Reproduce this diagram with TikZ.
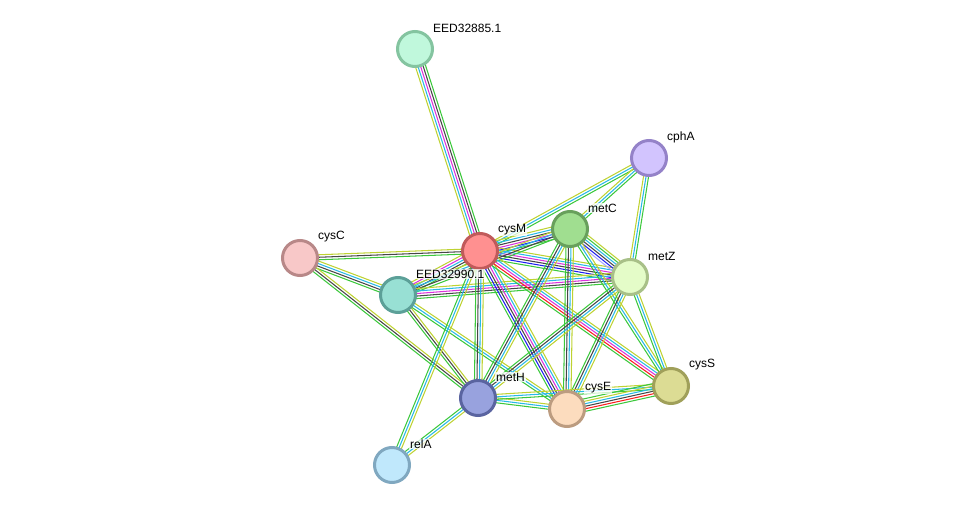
\documentclass[tikz,border=0pt]{standalone}
\usepackage{fontspec}
\setmainfont{Liberation Sans}
\usetikzlibrary{calc,backgrounds}

\definecolor{tg}{RGB}{60,200,60}
\definecolor{tc}{RGB}{40,185,230}
\definecolor{ty}{RGB}{190,210,50}
\definecolor{tk}{RGB}{70,70,70}
\definecolor{tm}{RGB}{220,50,220}
\definecolor{tb}{RGB}{30,30,240}
\definecolor{tr}{RGB}{250,30,30}
\definecolor{tl}{RGB}{165,165,255}

% one bundle of parallel lines per link, one line per evidence colour
\newcommand{\link}[3]{%
  \foreach \c [count=\n] in {#3} {\xdef\nlines{\n}}
  \foreach \c [count=\i] in {#3} {
    \pgfmathsetmacro{\off}{(\i-1-(\nlines-1)/2)*2.5}
    \draw[line width=1.05pt, color=\c]
      ($(#1)!\off pt!90:(#2)$) -- ($(#2)!\off pt!-90:(#1)$);
  }
}

\begin{document}
\begin{tikzpicture}[x=1pt, y=-1pt,
  every node/.style={font=\fontsize{12}{14}\selectfont},
  prot/.style={circle, line width=3pt, minimum size=35pt, inner sep=0pt},
  lbl/.style ={anchor=west, inner sep=1pt, fill=white, fill opacity=0.75, text opacity=1}]

\useasboundingbox (0,0) rectangle (975,511);

% proteins
\node[prot, fill={rgb,255:red,192;green,248;blue,220}, draw={rgb,255:red,132;green,196;blue,160}] (e85)  at (415,49)  {};
\node[prot, fill={rgb,255:red,210;green,196;blue,254}, draw={rgb,255:red,148;green,130;blue,200}] (cphA) at (649,158) {};
\node[prot, fill={rgb,255:red,160;green,222;blue,144}, draw={rgb,255:red,104;green,160;blue,92}]  (metC) at (570,229) {};
\node[prot, fill={rgb,255:red,255;green,144;blue,144}, draw={rgb,255:red,192;green,90;blue,90}]   (cysM) at (480,251) {};
\node[prot, fill={rgb,255:red,248;green,200;blue,200}, draw={rgb,255:red,184;green,136;blue,136}] (cysC) at (300,258) {};
\node[prot, fill={rgb,255:red,228;green,252;blue,200}, draw={rgb,255:red,168;green,192;blue,136}] (metZ) at (630,277) {};
\node[prot, fill={rgb,255:red,152;green,224;blue,212}, draw={rgb,255:red,92;green,160;blue,152}]  (e90)  at (398,295) {};
\node[prot, fill={rgb,255:red,152;green,162;blue,222}, draw={rgb,255:red,90;green,100;blue,160}]  (metH) at (478,398) {};
\node[prot, fill={rgb,255:red,252;green,220;blue,190}, draw={rgb,255:red,188;green,156;blue,128}] (cysE) at (567,409) {};
\node[prot, fill={rgb,255:red,220;green,220;blue,148}, draw={rgb,255:red,160;green,160;blue,90}]  (cysS) at (671,386) {};
\node[prot, fill={rgb,255:red,192;green,232;blue,252}, draw={rgb,255:red,128;green,168;blue,192}] (relA) at (392,465) {};

% names
\node[lbl] (e85-l)  at (432,28)  {EED32885.1};
\node[lbl] (cphA-l) at (666,137) {cphA};
\node[lbl] (metC-l) at (587,208) {metC};
\node[lbl] (cysM-l) at (497,230) {cysM};
\node[lbl] (cysC-l) at (317,237) {cysC};
\node[lbl] (metZ-l) at (647,256) {metZ};
\node[lbl] (e90-l)  at (415,274) {EED32990.1};
\node[lbl] (metH-l) at (495,377) {metH};
\node[lbl] (cysE-l) at (584,388) {cysE};
\node[lbl] (cysS-l) at (688,365) {cysS};
\node[lbl] (relA-l) at (409,444) {relA};

% links
\begin{scope}[on background layer]
\link{e85}{cysM}{ty,tc,tm,tk,tg}
\link{cphA}{cysM}{ty,tc,tg}
\link{cphA}{metC}{ty,tc,tg}
\link{cphA}{metZ}{ty,tc,tg}
\link{cysM}{metC}{tg,tb,tm,tk,tc,ty}
\link{cysM}{metZ}{tg,tb,tk,tm,tc,ty}
\link{metC}{metZ}{tl,tb,tk,tc,tg,ty}
\link{cysC}{cysM}{tg,tk,ty}
\link{cysC}{e90}{tg,tk,tc,ty}
\link{cysC}{metH}{tg,tk,ty}
\link{e90}{cysM}{tg,tk,tc,tm,ty}
\link{e90}{metC}{tg,tk,tc,ty}
\link{e90}{metZ}{tg,tk,tm,tc,ty}
\link{e90}{metH}{tg,tk,ty}
\link{e90}{cysE}{tg,tc,ty}
\link{cysM}{metH}{tg,tk,tc,ty}
\link{cysM}{cysE}{tg,tb,tk,tm,tc,ty}
\link{cysM}{cysS}{tg,tr,tm,tc,ty}
\link{cysM}{relA}{tg,tc,ty}
\link{metH}{relA}{tg,tc,ty}
\link{metC}{metH}{tg,tk,tc,ty}
\link{metC}{cysE}{tg,tk,tc,ty}
\link{metC}{cysS}{tg,tc,ty}
\link{metZ}{metH}{tg,tk,tc,ty}
\link{metZ}{cysE}{tg,tk,tc,ty}
\link{metZ}{cysS}{tg,tc,ty}
\link{metH}{cysE}{tg,tc,ty}
\link{metH}{cysS}{tg,tc,ty}
\link{cysE}{cysS}{tg,tr,tk,tc,ty,tg}
\end{scope}
\end{tikzpicture}
\end{document}
